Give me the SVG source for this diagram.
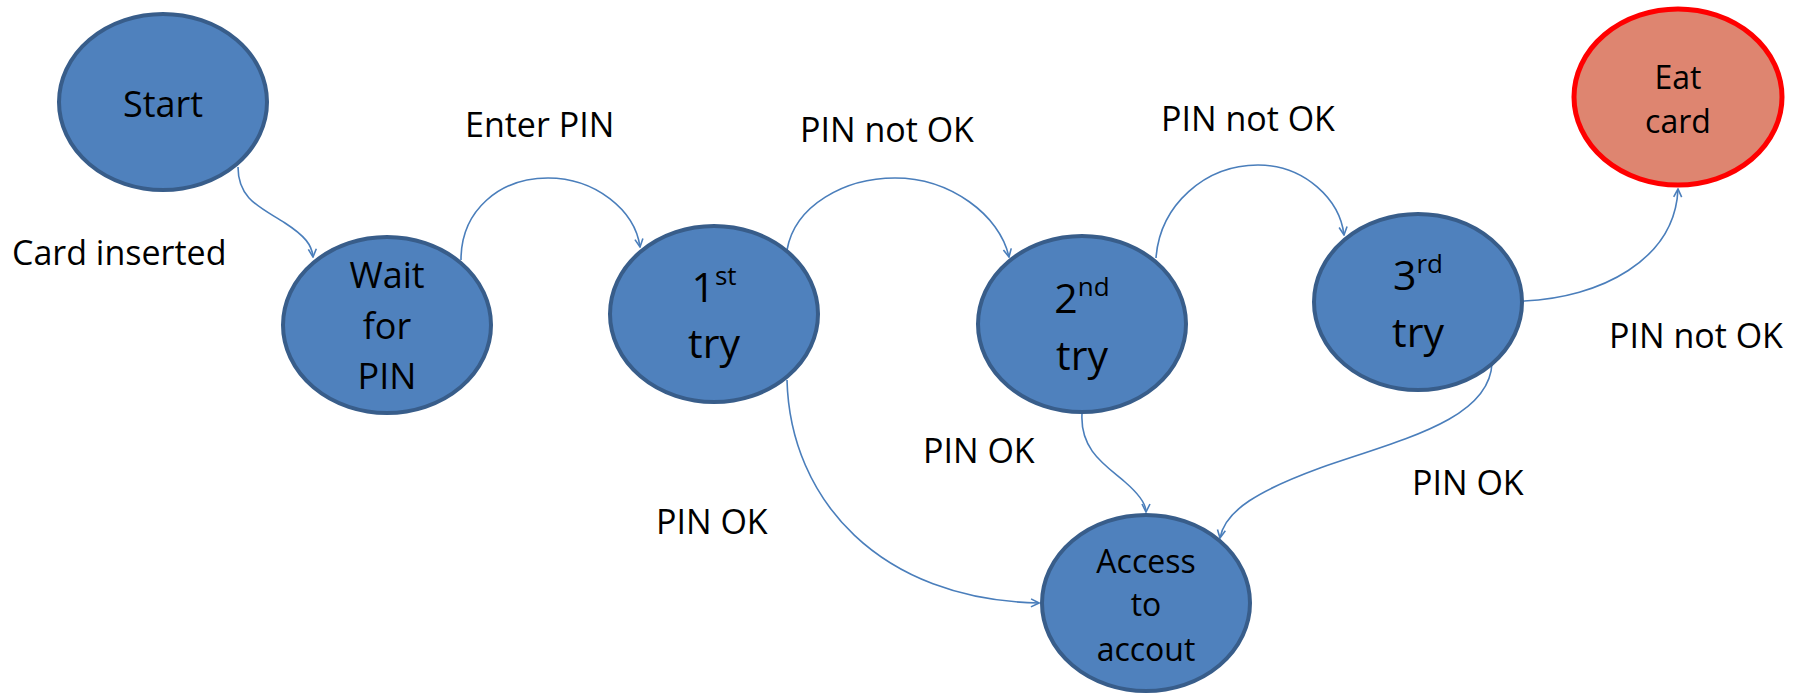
<svg xmlns="http://www.w3.org/2000/svg" width="1804" height="693" viewBox="0 0 1804 693">
  <style>
    .state { fill: #4F81BD; stroke: #385D8A; stroke-width: 4; }
    .final { fill: #DE8570; stroke: #FF0000; stroke-width: 5; }
    .edge { fill: none; stroke: #4A7EBB; stroke-width: 1.6; marker-end: url(#arrow); }
    text { font-family: "Open Sans", "Liberation Sans", sans-serif; fill: #000; }
    .big { font-size: 36px; text-anchor: middle; }
    .try { font-size: 41px; text-anchor: middle; }
    .small { font-size: 32px; text-anchor: middle; }
    .label { font-size: 34px; }
  </style>
  <defs>
    <marker id="arrow" viewBox="0 0 10 10" refX="9" refY="5" markerWidth="10" markerHeight="10" markerUnits="userSpaceOnUse" orient="auto">
      <path d="M1,1 L9,5 L1,9" fill="none" stroke="#4A7EBB" stroke-width="1.6"/>
    </marker>
  </defs>
  <rect width="1804" height="693" fill="#FFFFFF"/>

  <!-- transitions -->
  <g id="connectors">
    <path class="edge" d="M238,167 C238,200 262,208 285,223 C305,236 312,245 313,257"/>
    <path class="edge" d="M461,260 C461,210 500,178 548,178 C595,178 635,210 640,247"/>
    <path class="edge" d="M787,250 C795,205 845,178 895,178 C950,178 1000,215 1009,257"/>
    <path class="edge" d="M1156,258 C1160,205 1205,165 1258,165 C1305,165 1340,200 1344,235"/>
    <path class="edge" d="M1523,301 C1600,298 1675,260 1678,189"/>
    <path class="edge" d="M787,380 C790,500 880,600 1039,603"/>
    <path class="edge" d="M1082,414 C1080,450 1105,465 1125,482 C1140,495 1146,505 1146,512"/>
    <path class="edge" d="M1492,363 C1490,420 1400,440 1320,468 C1260,490 1225,510 1220,538"/>
  </g>

  <!-- transition labels -->
  <g id="labels">
    <text class="label" x="12" y="265">Card inserted</text>
    <text class="label" x="465" y="137">Enter PIN</text>
    <text class="label" x="800" y="142">PIN not OK</text>
    <text class="label" x="1161" y="131">PIN not OK</text>
    <text class="label" x="1609" y="348">PIN not OK</text>
    <text class="label" x="656" y="534">PIN OK</text>
    <text class="label" x="923" y="463">PIN OK</text>
    <text class="label" x="1412" y="495">PIN OK</text>
  </g>

  <!-- states -->
  <g id="start">
    <ellipse class="state" cx="163" cy="102" rx="104" ry="88"/>
    <text class="big" x="163" y="117">Start</text>
  </g>
  <g id="wait-for-pin">
    <ellipse class="state" cx="387" cy="325" rx="104" ry="88"/>
    <text class="big" x="387" y="288">Wait</text>
    <text class="big" x="387" y="339">for</text>
    <text class="big" x="387" y="389">PIN</text>
  </g>
  <g id="try-1">
    <ellipse class="state" cx="714" cy="314" rx="104" ry="88"/>
    <text class="try" x="714" y="302">1<tspan font-size="26" dy="-17">st</tspan></text>
    <text class="try" x="714" y="358">try</text>
  </g>
  <g id="try-2">
    <ellipse class="state" cx="1082" cy="324" rx="104" ry="88"/>
    <text class="try" x="1082" y="313">2<tspan font-size="26" dy="-17">nd</tspan></text>
    <text class="try" x="1082" y="370">try</text>
  </g>
  <g id="try-3">
    <ellipse class="state" cx="1418" cy="302" rx="104" ry="88"/>
    <text class="try" x="1418" y="290">3<tspan font-size="26" dy="-17">rd</tspan></text>
    <text class="try" x="1418" y="347">try</text>
  </g>
  <g id="eat-card">
    <ellipse class="final" cx="1678" cy="97" rx="104" ry="88"/>
    <text class="small" x="1678" y="89">Eat</text>
    <text class="small" x="1678" y="133">card</text>
  </g>
  <g id="access">
    <ellipse class="state" cx="1146" cy="603" rx="104" ry="88"/>
    <text class="small" x="1146" y="573">Access</text>
    <text class="small" x="1146" y="616">to</text>
    <text class="small" x="1146" y="661">accout</text>
  </g>
</svg>
